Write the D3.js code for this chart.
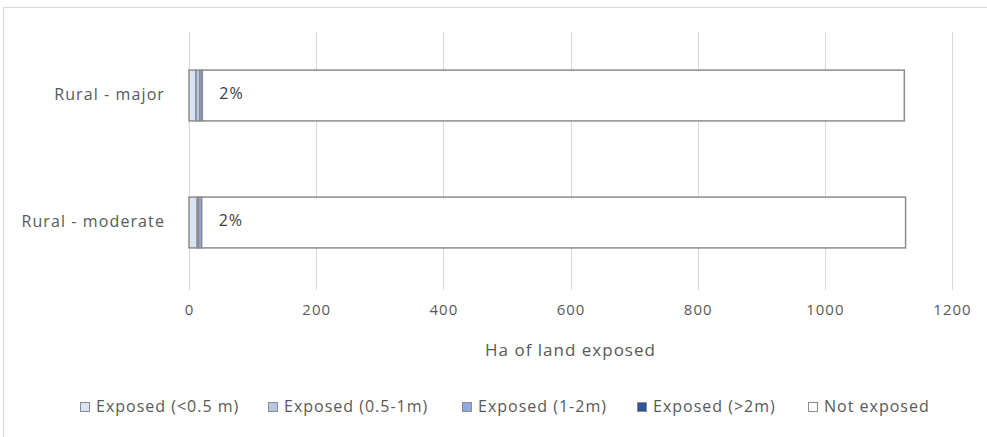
<!DOCTYPE html>
<html>
<head>
<meta charset="utf-8">
<script src="https://cdn.jsdelivr.net/npm/d3@7"></script>
<style>
  body { margin: 0; background: #fff; }
  text { font-family: "Open Sans", "DejaVu Sans", sans-serif; fill: #595959; }
</style>
</head>
<body>
<script>
// data (hectares)
var categories = ["Rural - major", "Rural - moderate"];
var seriesNames = ["Exposed (<0.5 m)", "Exposed (0.5-1m)", "Exposed (1-2m)", "Exposed (>2m)", "Not exposed"];
var seriesColors = ["#dae3f3", "#b4c7e7", "#8faadc", "#2f5597", "#ffffff"];
var lt05 = [11, 13];
var m05to1 = [6, 2];
var m1to2 = [4, 5];
var gt2 = [0, 0];
var notExposed = [1104, 1107];
var pctLabels = ["2%", "2%"];
var xTicks = [0, 200, 400, 600, 800, 1000, 1200];

var W = 987, H = 437;
var margin = {top: 32, left: 189, right: 35, bottom: 147};
var width = W - margin.left - margin.right,
    height = H - margin.top - margin.bottom;

var svg = d3.select("body").append("svg")
    .attr("width", W)
    .attr("height", H);

// chart border (only top / left visible in the shot)
svg.append("rect")
    .attr("x", 3.5).attr("y", 7.5)
    .attr("width", W + 10).attr("height", H + 10)
    .attr("fill", "none")
    .attr("stroke", "#d9d9d9");

var g = svg.append("g")
    .attr("transform", "translate(" + margin.left + "," + margin.top + ")");

var x = d3.scaleLinear().domain([0, 1200]).range([0, 763]);
var y = d3.scaleBand().domain(categories).range([0, height - 4]).paddingInner(0.6).paddingOuter(0.3);

// build rows for the stack
var rows = categories.map(function(c, i) {
    return {cat: c, s0: lt05[i], s1: m05to1[i], s2: m1to2[i], s3: gt2[i], s4: notExposed[i]};
});
var stack = d3.stack().keys(["s0", "s1", "s2", "s3", "s4"])(rows);

// gridlines
g.selectAll(".grid").data(xTicks.slice(1))
  .enter().append("line")
    .attr("x1", function(d) { return Math.round(x(d)) + 0.5; })
    .attr("x2", function(d) { return Math.round(x(d)) + 0.5; })
    .attr("y1", 0).attr("y2", height)
    .attr("stroke", "#d9d9d9");

// axis line at 0
g.append("line")
    .attr("x1", 0.5).attr("x2", 0.5)
    .attr("y1", 0).attr("y2", height)
    .attr("stroke", "#d9d9d9");

// bars
var layer = g.selectAll(".layer").data(stack)
  .enter().append("g")
    .attr("fill", function(d, i) { return seriesColors[i]; });

layer.selectAll("rect").data(function(d) { return d; })
  .enter().append("rect")
    .attr("x", function(d) { return x(d[0]); })
    .attr("width", function(d) { return Math.max(0, x(d[1]) - x(d[0])); })
    .attr("y", function(d) { return y(d.data.cat); })
    .attr("height", y.bandwidth())
    .attr("stroke", function(d) { return (d[1] - d[0]) > 0 ? "#8c8c8c" : "none"; })
    .attr("stroke-width", 1.5);

// percent labels
g.selectAll(".pct").data(rows)
  .enter().append("text")
    .attr("x", function(d) { return x(d.s0 + d.s1 + d.s2 + d.s3) + 17; })
    .attr("y", function(d) { return y(d.cat) + y.bandwidth() / 2 - 2; })
    .attr("dy", "0.35em")
    .style("font-size", "16px")
    .style("letter-spacing", "1px")
    .style("fill", "#404040")
    .text(function(d, i) { return pctLabels[i]; });

// category labels
g.selectAll(".cat").data(categories)
  .enter().append("text")
    .attr("x", -24)
    .attr("y", function(d) { return y(d) + y.bandwidth() / 2 - 1; })
    .attr("dy", "0.35em")
    .attr("text-anchor", "end")
    .style("font-size", "16px")
    .style("letter-spacing", "1.1px")
    .text(function(d) { return d; });

// x axis
var xAxis = g.append("g")
    .attr("transform", "translate(0," + height + ")")
    .call(d3.axisBottom(x).tickValues(xTicks).tickFormat(d3.format("d")).tickSize(0).tickPadding(14));
xAxis.select(".domain").remove();
xAxis.selectAll("text")
    .style("font-size", "15px")
    .style("letter-spacing", "1px")
    .style("fill", "#595959")
    .style("font-family", "'Open Sans', sans-serif");

svg.append("text")
    .attr("x", margin.left + x(600))
    .attr("y", 356)
    .attr("text-anchor", "middle")
    .style("font-size", "17px")
    .style("letter-spacing", "1px")
    .text("Ha of land exposed");

// legend
var legX = [80, 268, 462, 637, 808];
var leg = svg.selectAll(".leg").data(seriesNames)
  .enter().append("g")
    .attr("transform", function(d, i) { return "translate(" + legX[i] + ",401)"; });
leg.append("rect")
    .attr("width", 9).attr("height", 9)
    .attr("x", 0.5).attr("y", 1.5)
    .attr("fill", function(d, i) { return seriesColors[i]; })
    .attr("stroke", "#8c8c8c");
leg.append("text")
    .attr("x", 16)
    .attr("y", 5)
    .attr("dy", "0.35em")
    .style("font-size", "16px")
    .style("letter-spacing", "1px")
    .text(function(d) { return d; });
</script>
</body>
</html>
